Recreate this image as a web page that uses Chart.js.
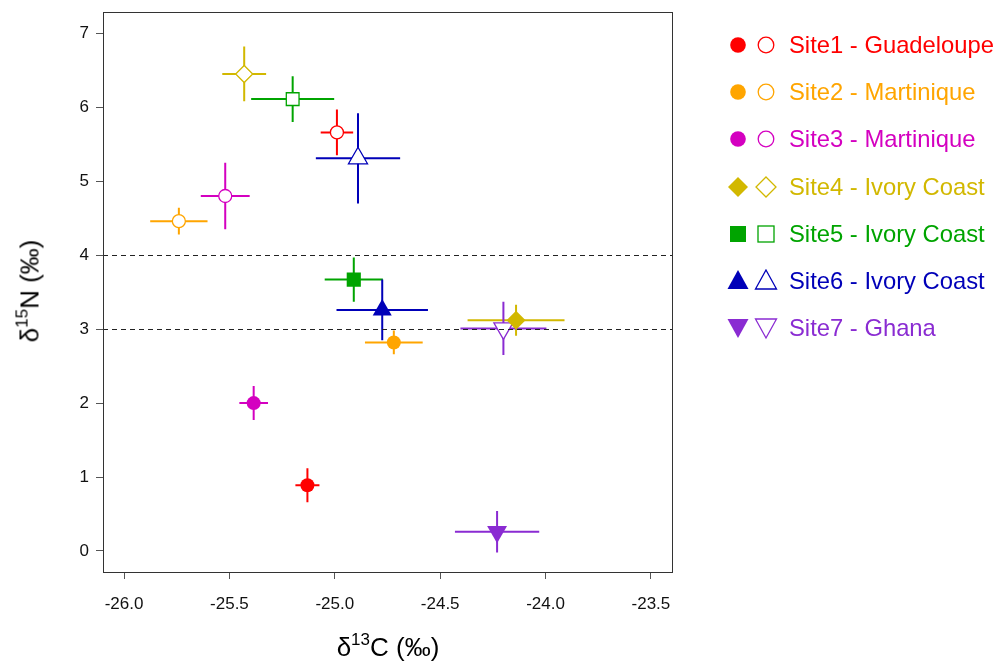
<!DOCTYPE html>
<html>
<head>
<meta charset="utf-8">
<script src="https://cdn.jsdelivr.net/npm/chart.js@4.4.1/dist/chart.umd.min.js"></script>
<style>
  body { margin: 0; background: #fff; font-family: "Liberation Sans", Arial, sans-serif; }
  #wrap { position: relative; width: 993px; height: 663px; }
  #grafico { position: absolute; left: 0; top: 0; }
  .titulo { position: absolute; font-size: 26px; color: #000; white-space: nowrap; }
  .titulo sup { font-size: 17px; vertical-align: 0; position: relative; top: -11px; }
  #tituloX { left: 388px; top: 647px; transform: translate(-50%, -50%); }
  #tituloY { left: 30px; top: 291px; transform: translate(-50%, -50%) rotate(-90deg); }
  .linhaLegenda { position: absolute; left: 726px; height: 24px; display: flex; align-items: center; white-space: nowrap; }
  .linhaLegenda svg { margin-right: 4px; }
  .linhaLegenda span { font-size: 23.8px; margin-left: 7px; }
</style>
</head>
<body>
<div id="wrap">
  <canvas id="grafico" width="993" height="663"></canvas>
  <div class="titulo" id="tituloX">δ<sup>13</sup>C (‰)</div>
  <div class="titulo" id="tituloY">δ<sup>15</sup>N (‰)</div>
  <div id="legenda"></div>
</div>
<script>
// Sítios e cores
const sitios = [
  "Site1 - Guadeloupe",
  "Site2 - Martinique",
  "Site3 - Martinique",
  "Site4 - Ivory Coast",
  "Site5 - Ivory Coast",
  "Site6 - Ivory Coast",
  "Site7 - Ghana",
];
const cores = ["#ff0000", "#ffa500", "#d400c0", "#d2b800", "#00a400", "#0000b8", "#8a2bd2"];
const formas = ["circle", "circle", "circle", "rectRot", "rect", "triangle", "triangle"];
const rotacoes = [0, 0, 0, 0, 0, 0, 180];

// Símbolos cheios
const cheioC13 = [-25.13, -24.72, -25.385, -24.14, -24.91, -24.775, -24.23];
const cheioN15 = [0.89, 2.82, 2.00, 3.12, 3.67, 3.26, 0.26];
const cheioErroC13 = [0.057, 0.137, 0.068, 0.23, 0.138, 0.217, 0.20];
const cheioErroN15 = [0.23, 0.16, 0.23, 0.21, 0.30, 0.41, 0.28];

// Símbolos vazios
const vazioC13 = [-24.99, -25.74, -25.52, -25.43, -25.20, -24.89, -24.20];
const vazioN15 = [5.66, 4.46, 4.80, 6.45, 6.11, 5.31, 3.01];
const vazioErroC13 = [0.077, 0.136, 0.116, 0.104, 0.197, 0.20, 0.204];
const vazioErroN15 = [0.31, 0.18, 0.45, 0.37, 0.31, 0.61, 0.36];

// Eixos
const ticksX = [-26.0, -25.5, -25.0, -24.5, -24.0, -23.5];
const ticksY = [0, 1, 2, 3, 4, 5, 6, 7];
const linhasRef = [3, 4];

const raioCheio = [7, 7, 7, 9.5, 10, 11, 11.5];
const raioVazio = [6.5, 6.5, 6.5, 8.5, 9, 11, 11];

// Barras de erro, linhas tracejadas e caixa
const barrasErro = {
  id: "barrasErro",
  beforeDatasetsDraw(chart) {
    const ctx = chart.ctx;
    const sx = chart.scales.x;
    const sy = chart.scales.y;
    ctx.save();
    ctx.lineWidth = 2;
    chart.data.datasets.forEach((ds) => {
      ds.data.forEach((p) => {
        const x = sx.getPixelForValue(p.x);
        const y = sy.getPixelForValue(p.y);
        ctx.strokeStyle = p.cor;
        ctx.beginPath();
        ctx.moveTo(sx.getPixelForValue(p.x - p.ex), y);
        ctx.lineTo(sx.getPixelForValue(p.x + p.ex), y);
        ctx.moveTo(x, sy.getPixelForValue(p.y - p.ey));
        ctx.lineTo(x, sy.getPixelForValue(p.y + p.ey));
        ctx.stroke();
      });
    });
    ctx.restore();
  },
  afterDraw(chart) {
    const ctx = chart.ctx;
    const a = chart.chartArea;
    const sy = chart.scales.y;
    ctx.save();
    ctx.strokeStyle = "#222";
    ctx.lineWidth = 1;
    ctx.setLineDash([5, 4]);
    linhasRef.forEach((v) => {
      const y = Math.round(sy.getPixelForValue(v)) + 0.5;
      ctx.beginPath();
      ctx.moveTo(a.left, y);
      ctx.lineTo(a.right, y);
      ctx.stroke();
    });
    ctx.setLineDash([]);
    ctx.strokeStyle = "#333";
    ctx.strokeRect(Math.round(a.left) + 0.5, Math.round(a.top) + 0.5,
      Math.round(a.right - a.left), Math.round(a.bottom - a.top));
    ctx.restore();
  },
};

const pontosCheios = cheioC13.map((x, i) => ({
  x: x, y: cheioN15[i], ex: cheioErroC13[i], ey: cheioErroN15[i], cor: cores[i],
}));
const pontosVazios = vazioC13.map((x, i) => ({
  x: x, y: vazioN15[i], ex: vazioErroC13[i], ey: vazioErroN15[i], cor: cores[i],
}));

new Chart(document.getElementById("grafico").getContext("2d"), {
  type: "scatter",
  data: {
    datasets: [
      {
        label: "cheio",
        data: pontosCheios,
        pointStyle: formas,
        rotation: rotacoes,
        pointRadius: raioCheio,
        backgroundColor: cores,
        borderColor: cores,
        borderWidth: 0,
      },
      {
        label: "vazio",
        data: pontosVazios,
        pointStyle: formas,
        rotation: rotacoes,
        pointRadius: raioVazio,
        backgroundColor: "#ffffff",
        borderColor: cores,
        borderWidth: 1.3,
      },
    ],
  },
  options: {
    responsive: false,
    animation: false,
    layout: { padding: { top: 12, right: 321, left: 0, bottom: 0 } },
    plugins: {
      legend: { display: false },
      tooltip: { enabled: false },
    },
    scales: {
      x: {
        type: "linear",
        min: -26.1,
        max: -23.4,
        afterBuildTicks: (s) => { s.ticks = ticksX.map((v) => ({ value: v })); },
        afterFit: (s) => { s.height = 91; s.paddingLeft = 0; s.paddingRight = 0; },
        grid: { drawOnChartArea: false, drawTicks: true, tickLength: 7, color: "#555" },
        border: { display: false },
        ticks: {
          color: "#111",
          padding: 15,
          font: { family: "Liberation Sans", size: 17 },
          callback: (v) => Number(v).toFixed(1),
          maxRotation: 0,
        },
      },
      y: {
        type: "linear",
        min: -0.284,
        max: 7.284,
        afterBuildTicks: (s) => { s.ticks = ticksY.map((v) => ({ value: v })); },
        afterFit: (s) => { s.width = 103; s.paddingTop = 0; s.paddingBottom = 0; },
        grid: { drawOnChartArea: false, drawTicks: true, tickLength: 7, color: "#555" },
        border: { display: false },
        ticks: {
          color: "#111",
          padding: 7,
          font: { family: "Liberation Sans", size: 17 },
        },
      },
    },
  },
  plugins: [barrasErro],
});

// Legenda em HTML
function simbolo(forma, rot, cor, cheio) {
  const fill = cheio ? cor : "#fff";
  const st = `fill="${fill}" stroke="${cor}" stroke-width="${cheio ? 0 : 1.3}"`;
  let s = "";
  if (forma === "circle") s = `<circle cx="12" cy="12" r="7.8" ${st}/>`;
  else if (forma === "rectRot") s = `<polygon points="12,2 22,12 12,22 2,12" ${st}/>`;
  else if (forma === "rect") s = `<rect x="4" y="4" width="16" height="16" ${st}/>`;
  else if (rot === 0) s = `<polygon points="12,1 22.5,20 1.5,20" ${st}/>`;
  else s = `<polygon points="12,22 22.5,3 1.5,3" ${st}/>`;
  return `<svg width="24" height="24" viewBox="0 0 24 24">${s}</svg>`;
}

const legenda = document.getElementById("legenda");
sitios.forEach((nome, i) => {
  const linha = document.createElement("div");
  linha.className = "linhaLegenda";
  linha.style.top = (45 + i * 47.2 - 12) + "px";
  linha.innerHTML = simbolo(formas[i], rotacoes[i], cores[i], true) +
    simbolo(formas[i], rotacoes[i], cores[i], false) +
    `<span style="color:${cores[i]}">${nome}</span>`;
  legenda.appendChild(linha);
});
</script>
</body>
</html>
